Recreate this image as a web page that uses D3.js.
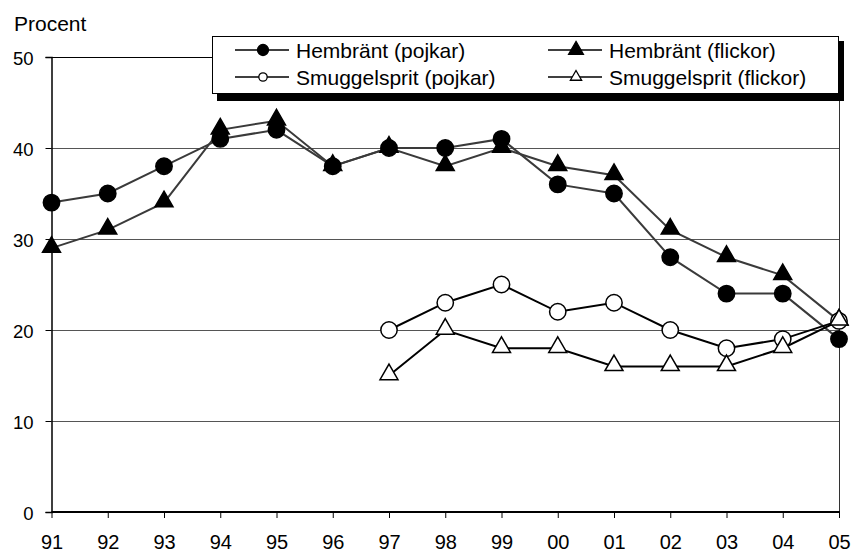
<!DOCTYPE html>
<html>
<head>
<meta charset="utf-8">
<script src="https://cdn.jsdelivr.net/npm/d3@7"></script>
<style>
  body { margin: 0; background: #fff; }
  text { font-family: "Liberation Sans", Arial, sans-serif; fill: #000; }
</style>
</head>
<body>
<div id="chart"></div>
<script>
const years = ["91","92","93","94","95","96","97","98","99","00","01","02","03","04","05"];
const hembrantPojkar = [34,35,38,41,42,38,40,40,41,36,35,28,24,24,19];
const hembrantFlickor = [29,31,34,42,43,38,40,38,40,38,37,31,28,26,21];
const smuggelPojkar = [null,null,null,null,null,null,20,23,25,22,23,20,18,19,21];
const smuggelFlickor = [null,null,null,null,null,null,15,20,18,18,16,16,16,18,21];
const yTicks = [0,10,20,30,40,50];

const width = 853, height = 553;
const plotLeft = 51.5, plotRight = 839, plotTop = 57, plotBottom = 512;

const svg = d3.select("#chart").append("svg")
  .attr("width", width).attr("height", height);

const x = d3.scalePoint().domain(years).range([plotLeft, plotRight]);
const y = d3.scaleLinear().domain([0, 50]).range([plotBottom, plotTop]);

// gridlines
svg.append("g").selectAll("line").data(yTicks.filter(d => d > 0)).join("line")
  .attr("x1", plotLeft).attr("x2", plotRight)
  .attr("y1", d => y(d) + 0.5).attr("y2", d => y(d) + 0.5)
  .attr("stroke", d => d === 50 ? "#000" : "#555").attr("stroke-width", 1);
// right border
svg.append("line").attr("x1", plotRight + 0.5).attr("x2", plotRight + 0.5)
  .attr("y1", plotTop).attr("y2", plotBottom).attr("stroke", "#333");

// y axis
const yAxis = svg.append("g").attr("transform", `translate(${plotLeft},0)`)
  .call(d3.axisLeft(y).tickValues(yTicks).tickSize(6).tickPadding(12));
yAxis.select(".domain").attr("stroke", "#000").attr("stroke-width", 1.5);
yAxis.selectAll("text").style("font-size", "18.5px").attr("dy", "0.4em");

// x axis
const xAxis = svg.append("g").attr("transform", `translate(0,${plotBottom})`)
  .call(d3.axisBottom(x).tickSize(6).tickPadding(17));
xAxis.select(".domain").attr("stroke", "#000").attr("stroke-width", 2).attr("d", `M${plotLeft},0H${plotRight + 1}`);
xAxis.selectAll("text").style("font-size", "20px");

svg.append("text").attr("x", 14).attr("y", 31).style("font-size", "21px").text("Procent");

const series = [
  { name: "Hembränt (pojkar)", values: hembrantPojkar, shape: "circle", fill: "#000", stroke: "#3a3a3a" },
  { name: "Hembränt (flickor)", values: hembrantFlickor, shape: "triangle", fill: "#000", stroke: "#3a3a3a" },
  { name: "Smuggelsprit (pojkar)", values: smuggelPojkar, shape: "circle", fill: "#fff", stroke: "#000" },
  { name: "Smuggelsprit (flickor)", values: smuggelFlickor, shape: "triangle", fill: "#fff", stroke: "#000" }
];

const sym = {
  circle: d3.symbol().type(d3.symbolCircle).size(210),
  triangle: d3.symbol().type(d3.symbolTriangle).size(140)
};

const line = d3.line()
  .defined(d => d.v != null)
  .x(d => x(d.year)).y(d => y(d.v));

series.forEach(s => {
  const pts = years.map((yr, i) => ({ year: yr, v: s.values[i] }));
  svg.append("path").datum(pts)
    .attr("d", line).attr("fill", "none")
    .attr("stroke", s.stroke).attr("stroke-width", 2);
});
series.forEach(s => {
  const pts = years.map((yr, i) => ({ year: yr, v: s.values[i] })).filter(d => d.v != null);
  svg.append("g").selectAll("path").data(pts).join("path")
    .attr("d", sym[s.shape])
    .attr("transform", d => `translate(${x(d.year)},${y(d.v) + (s.shape === "triangle" ? -1 : 0)})`)
    .attr("fill", s.fill).attr("stroke", "#000").attr("stroke-width", 1.5);
});

// legend
const lg = svg.append("g");
lg.append("rect").attr("x", 217).attr("y", 41).attr("width", 627).attr("height", 60).attr("fill", "#000");
lg.append("rect").attr("x", 212.5).attr("y", 36.5).attr("width", 626).attr("height", 57)
  .attr("fill", "#fff").attr("stroke", "#000").attr("stroke-width", 1);
const legPos = [[235, 50], [548, 50], [235, 77], [548, 77]];
series.forEach((s, i) => {
  const [lx, ly] = legPos[i];
  lg.append("line").attr("x1", lx).attr("x2", lx + 54).attr("y1", ly).attr("y2", ly)
    .attr("stroke", "#000").attr("stroke-width", 1.5);
  const shapeType = s.shape === "circle" ? d3.symbolCircle : d3.symbolTriangle;
  lg.append("path").attr("d", d3.symbol().type(shapeType).size(s.fill === "#fff" ? 55 : 95))
    .attr("transform", `translate(${lx + 28},${ly})`)
    .attr("fill", s.fill).attr("stroke", "#000").attr("stroke-width", 1.3);
  lg.append("text").attr("x", lx + 61).attr("y", ly).attr("dy", "0.36em")
    .style("font-size", "21px").text(s.name);
});
</script>
</body>
</html>
